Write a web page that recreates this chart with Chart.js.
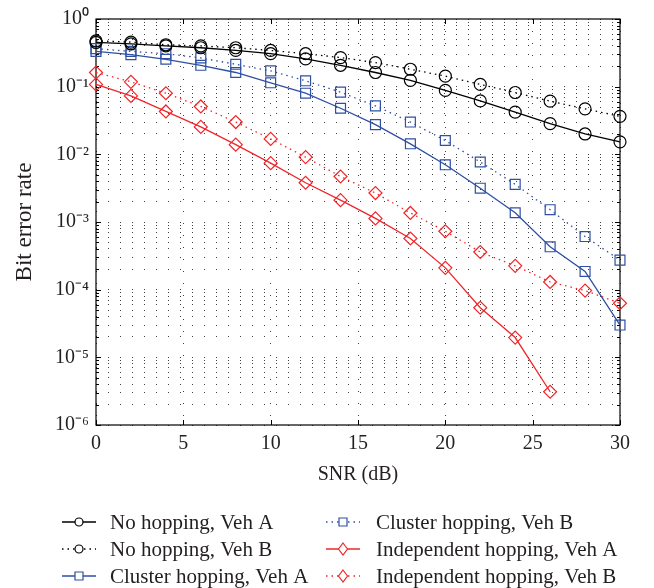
<!DOCTYPE html>
<html>
<head>
<meta charset="utf-8">
<script src="https://cdn.jsdelivr.net/npm/chart.js@4.4.0/dist/chart.umd.min.js"></script>
<style>
  html, body { margin: 0; padding: 0; background: #fff; }
  #wrap { width: 654px; height: 588px; }
</style>
</head>
<body>
<div id="wrap"><canvas id="berChart" width="654" height="588"></canvas></div>
<script>
// SNR points (dB)
const snr = [0, 2, 4, 6, 8, 10, 12, 14, 16, 18, 20, 22, 24, 26, 28, 30];

// bit error rate
const noHopVehA = [0.45, 0.43, 0.40, 0.376, 0.343, 0.307, 0.257, 0.207, 0.162, 0.124, 0.088, 0.0616, 0.042, 0.0284, 0.020, 0.0153];
const noHopVehB = [0.475, 0.456, 0.416, 0.40, 0.376, 0.343, 0.307, 0.269, 0.227, 0.181, 0.143, 0.108, 0.082, 0.061, 0.047, 0.0364];
const clusterVehA = [0.332, 0.297, 0.254, 0.207, 0.162, 0.114, 0.080, 0.048, 0.0275, 0.0143, 0.0070, 0.00316, 0.00137, 0.00043, 0.000186, 0.000030];
const clusterVehB = [0.365, 0.332, 0.307, 0.266, 0.214, 0.171, 0.122, 0.083, 0.052, 0.030, 0.0160, 0.0077, 0.0036, 0.00152, 0.00061, 0.000273];
const indepVehA = [0.108, 0.073, 0.043, 0.0254, 0.0139, 0.0074, 0.0038, 0.0021, 0.00113, 0.00057, 0.00021, 0.000054, 0.0000196, 0.0000031];
const indepVehB = [0.162, 0.118, 0.080, 0.051, 0.030, 0.0169, 0.0091, 0.0047, 0.00268, 0.00136, 0.00073, 0.00036, 0.000225, 0.00013, 0.000097, 0.000063];

const seriesNames = [
  "No hopping, Veh A",
  "No hopping, Veh B",
  "Cluster hopping, Veh A",
  "Cluster hopping, Veh B",
  "Independent hopping, Veh A",
  "Independent hopping, Veh B"
];

// axis ticks
const xTickStep = 5;
const yDecades = [-6, -5, -4, -3, -2, -1, 0];

const BLACK = "#000000";
const BLUE = "#2e4fa3";
const RED = "#f0262a";
const FONT = "'Liberation Serif', 'Times New Roman', serif";

const sup = { "-": "\u207B", "0": "\u2070", "1": "\u00B9", "2": "\u00B2", "3": "\u00B3",
  "4": "\u2074", "5": "\u2075", "6": "\u2076", "7": "\u2077", "8": "\u2078", "9": "\u2079" };

function toPoints(values) {
  return values.map((v, i) => ({ x: snr[i], y: v }));
}

function makeSet(label, values, color, shape, dotted) {
  return {
    label,
    data: toPoints(values),
    borderColor: color,
    borderWidth: 1.3,
    borderDash: dotted ? [1.5, 4] : [],
    pointStyle: shape,
    pointRadius: shape === "circle" ? 6 : (shape === "rect" ? 7 : 6.5),
    pointBorderWidth: 1.2,
    pointBorderColor: color,
    pointBackgroundColor: "rgba(0,0,0,0)",
    tension: 0,
    clip: false,
    fill: false
  };
}

// box around plot + inward tick marks
const boxPlugin = {
  id: "boxTicks",
  beforeDatasetsDraw(chart) {
    const { ctx, chartArea: a } = chart;
    const xs = chart.scales.x;
    const ys = chart.scales.y;
    ctx.save();
    ctx.strokeStyle = "#000";
    ctx.lineWidth = 1.2;
    ctx.setLineDash([]);
    ctx.strokeRect(a.left, a.top, a.right - a.left, a.bottom - a.top);
    ctx.lineWidth = 1;
    ctx.beginPath();
    xs.ticks.forEach(t => {
      const px = Math.round(xs.getPixelForValue(t.value)) + 0.5;
      ctx.moveTo(px, a.bottom); ctx.lineTo(px, a.bottom - 5);
      ctx.moveTo(px, a.top); ctx.lineTo(px, a.top + 5);
    });
    ys.ticks.forEach(t => {
      const py = Math.round(ys.getPixelForValue(t.value)) + 0.5;
      const exp = Math.log10(t.value);
      const len = Math.abs(exp - Math.round(exp)) < 1e-9 ? 5 : 3;
      ctx.moveTo(a.left, py); ctx.lineTo(a.left + len, py);
      ctx.moveTo(a.right, py); ctx.lineTo(a.right - len, py);
    });
    ctx.stroke();
    ctx.restore();
  }
};

function drawMarker(ctx, shape, x, y) {
  ctx.beginPath();
  if (shape === "circle") {
    ctx.arc(x, y, 4, 0, Math.PI * 2);
  } else if (shape === "rect") {
    ctx.rect(x - 4, y - 4, 8, 8);
  } else {
    ctx.moveTo(x, y - 6); ctx.lineTo(x + 4.5, y); ctx.lineTo(x, y + 6); ctx.lineTo(x - 4.5, y);
    ctx.closePath();
  }
  ctx.fill();
  ctx.stroke();
}

// two-column legend under the axes
const legendPlugin = {
  id: "matlabLegend",
  afterDraw(chart) {
    const ctx = chart.ctx;
    const lineX = [62, 326];
    const textX = [110, 376];
    const rows = [522, 549, 576];
    chart.data.datasets.forEach((ds, i) => {
      const c = Math.floor(i / 3);
      const y = rows[i % 3];
      const x0 = lineX[c];
      ctx.save();
      ctx.strokeStyle = ds.borderColor;
      ctx.lineWidth = 1.3;
      ctx.setLineDash(ds.borderDash);
      ctx.beginPath();
      ctx.moveTo(x0, y); ctx.lineTo(x0 + 34, y);
      ctx.stroke();
      ctx.setLineDash([]);
      ctx.fillStyle = "#fff";
      ctx.lineWidth = 1.2;
      drawMarker(ctx, ds.pointStyle, x0 + 17, y);
      ctx.fillStyle = "#231f20";
      ctx.font = "21px " + FONT;
      ctx.textBaseline = "middle";
      ctx.textAlign = "left";
      ctx.fillText(ds.label, textX[c], y + 1);
      ctx.restore();
    });
  }
};

const ctx = document.getElementById("berChart").getContext("2d");

new Chart(ctx, {
  type: "line",
  data: {
    datasets: [
      makeSet(seriesNames[0], noHopVehA, BLACK, "circle", false),
      makeSet(seriesNames[1], noHopVehB, BLACK, "circle", true),
      makeSet(seriesNames[2], clusterVehA, BLUE, "rect", false),
      makeSet(seriesNames[3], clusterVehB, BLUE, "rect", true),
      makeSet(seriesNames[4], indepVehA, RED, "rectRot", false),
      makeSet(seriesNames[5], indepVehB, RED, "rectRot", true)
    ]
  },
  options: {
    responsive: false,
    animation: false,
    devicePixelRatio: 1,
    layout: { padding: { left: 0, right: 34, top: 15, bottom: 88 } },
    plugins: {
      legend: { display: false },
      tooltip: { enabled: false }
    },
    scales: {
      x: {
        type: "linear",
        min: 0,
        max: 30,
        afterFit(scale) { scale.height = 75; },
        ticks: {
          stepSize: xTickStep,
          color: "#231f20",
          padding: 7,
          maxRotation: 0,
          font: { family: FONT, size: 20 }
        },
        grid: { color: "rgba(0,0,0,0.75)", lineWidth: 1, drawTicks: false },
        border: { display: false, dash: [1, 11] },
        title: {
          display: true,
          text: "SNR (dB)",
          color: "#231f20",
          font: { family: FONT, size: 20 },
          padding: { top: 0, bottom: 13 }
        }
      },
      y: {
        type: "logarithmic",
        min: 1e-6,
        max: 1,
        afterFit(scale) { scale.width = 96; },
        afterBuildTicks(scale) {
          const ticks = [];
          yDecades.forEach(e => {
            const top = e === 0 ? 1 : 9;
            for (let m = 1; m <= top; m++) {
              ticks.push({ value: m * Math.pow(10, e) });
            }
          });
          scale.ticks = ticks;
        },
        ticks: {
          autoSkip: false,
          color: "#231f20",
          padding: 7,
          font: { family: FONT, size: 20 },
          callback(value) {
            const exp = Math.log10(value);
            if (Math.abs(exp - Math.round(exp)) > 1e-9) return "";
            return "10" + String(Math.round(exp)).split("").map(ch => sup[ch]).join("");
          }
        },
        grid: { color: "rgba(0,0,0,0.75)", lineWidth: 1, drawTicks: false },
        border: { display: false, dash: [1, 11] },
        title: {
          display: true,
          text: "Bit error rate",
          color: "#231f20",
          font: { family: FONT, size: 23 },
          padding: { top: 11, bottom: 0 }
        }
      }
    }
  },
  plugins: [boxPlugin, legendPlugin]
});
</script>
</body>
</html>
